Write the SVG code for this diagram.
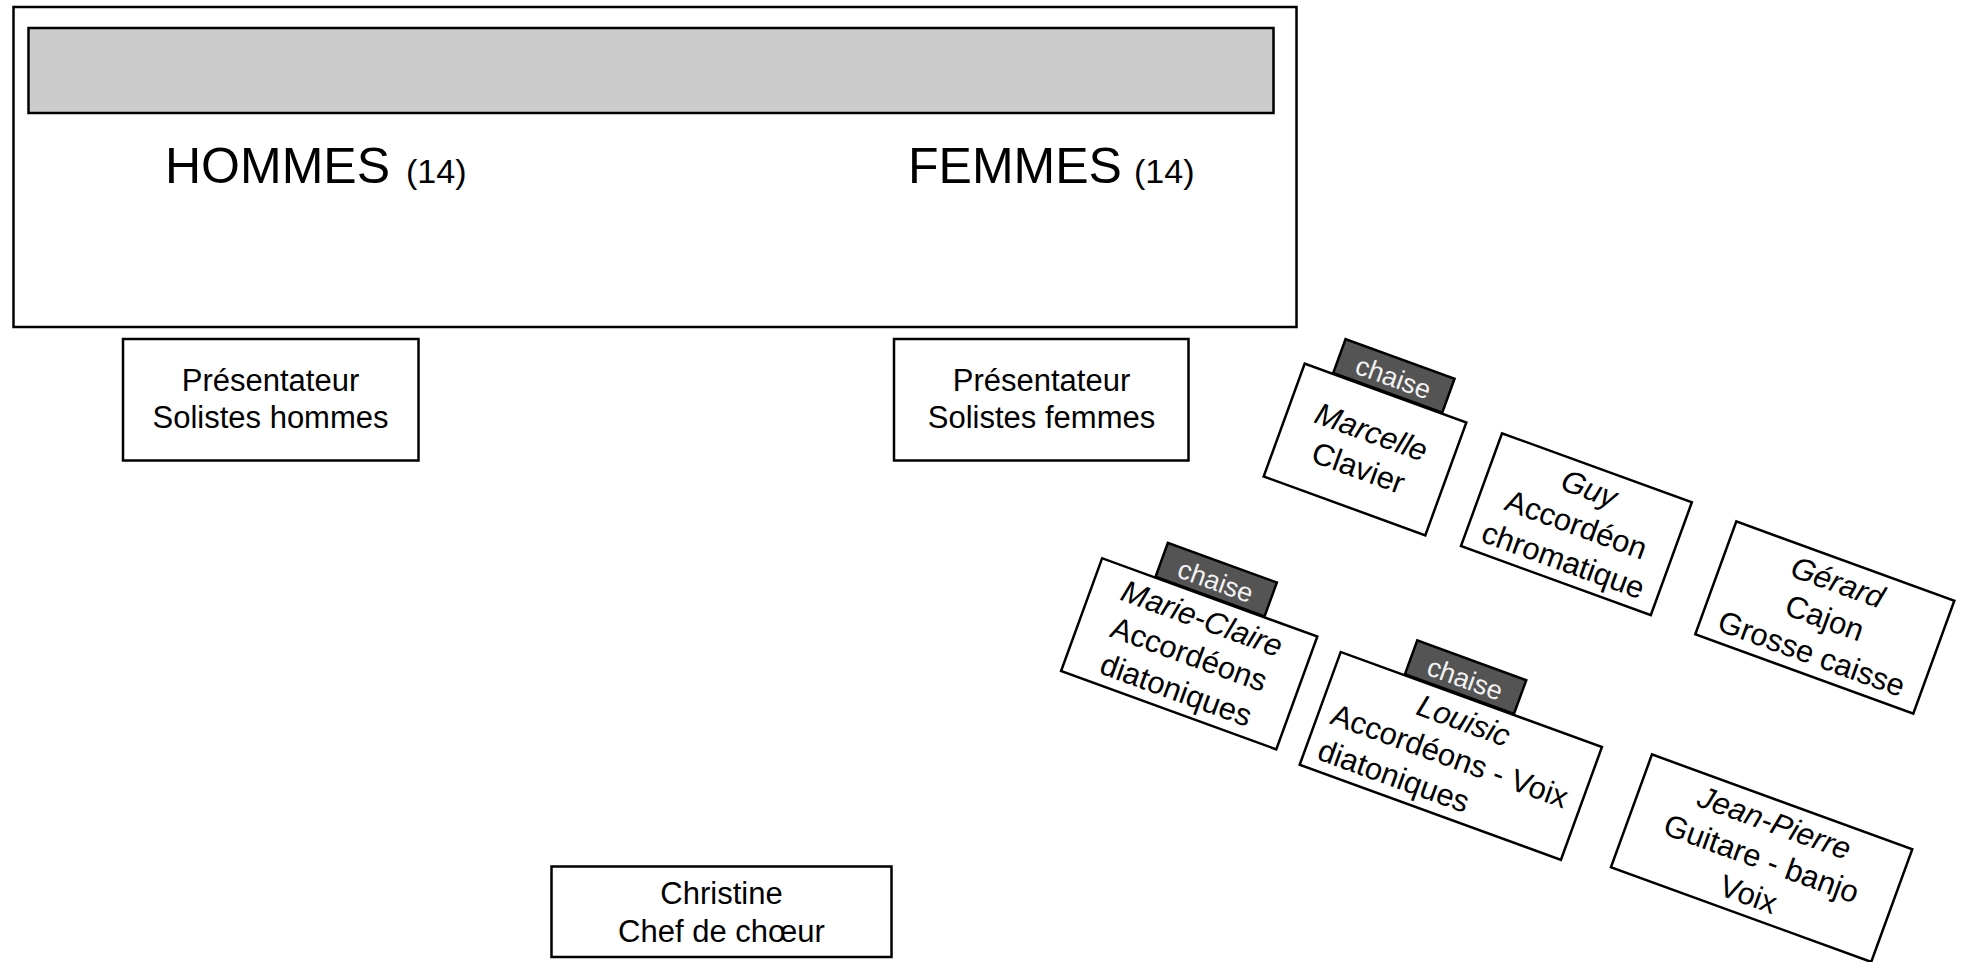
<svg xmlns="http://www.w3.org/2000/svg" width="1966" height="962" viewBox="0 0 1966 962">
<style>
  text { font-family: "Liberation Sans", Arial, Helvetica, sans-serif; fill: #000; }
  .box { fill: #fff; stroke: #000; stroke-width: 2.5; }
  .chaise { fill: #545454; stroke: #000; stroke-width: 2.5; }
  .chaise-t { font-size: 27px; fill: #f2f2f2; text-anchor: middle; }
  .lbl { font-size: 31px; text-anchor: middle; }
  .lbl-l { font-size: 31px; text-anchor: start; }
  .name { font-style: italic; }
  .big { font-size: 50px; }
  .num { font-size: 34px; }
</style>
<rect width="1966" height="962" fill="#fff"/>

<g id="stage">
  <rect x="13.5" y="7" width="1283" height="320" fill="#fff" stroke="#000" stroke-width="2.5"/>
  <rect x="28.5" y="28" width="1245" height="85" fill="#cccccc" stroke="#000" stroke-width="2.5"/>
  <text x="165" y="183"><tspan class="big">HOMMES</tspan><tspan class="num" x="406">(14)</tspan></text>
  <text x="908" y="183"><tspan class="big">FEMMES</tspan><tspan class="num" x="1134">(14)</tspan></text>
</g>

<g id="presentateur-hommes">
  <rect class="box" x="123" y="339" width="295.5" height="121.5"/>
  <text class="lbl" x="270.5" y="391">Présentateur</text>
  <text class="lbl" x="270.5" y="428">Solistes hommes</text>
</g>

<g id="presentateur-femmes">
  <rect class="box" x="894" y="339" width="294.5" height="121.5"/>
  <text class="lbl" x="1041.5" y="391">Présentateur</text>
  <text class="lbl" x="1041.5" y="428">Solistes femmes</text>
</g>

<g id="christine">
  <rect class="box" x="551.5" y="866.5" width="340" height="90.5"/>
  <text class="lbl" x="721.5" y="904">Christine</text>
  <text class="lbl" x="721.5" y="942">Chef de chœur</text>
</g>

<g id="marcelle" transform="translate(1365,449.5) rotate(20)">
  <rect class="chaise" x="-56" y="-97" width="116" height="36"/>
  <text class="chaise-t" x="2" y="-68">chaise</text>
  <rect class="box" x="-86" y="-60" width="172" height="120"/>
  <text class="lbl name" x="0" y="-8">Marcelle</text>
  <text class="lbl" x="0" y="30">Clavier</text>
</g>

<g id="guy" transform="translate(1576.4,524.2) rotate(20)">
  <rect class="box" x="-101" y="-60" width="202" height="120"/>
  <text class="lbl name" x="0" y="-27">Guy</text>
  <text class="lbl" x="0" y="11">Accordéon</text>
  <text class="lbl" x="0" y="49">chromatique</text>
</g>

<g id="gerard" transform="translate(1824.8,617.5) rotate(20)">
  <rect class="box" x="-116" y="-60" width="232" height="120"/>
  <text class="lbl name" x="0" y="-27">Gérard</text>
  <text class="lbl" x="0" y="11">Cajon</text>
  <text class="lbl" x="0" y="49">Grosse caisse</text>
</g>

<g id="marie-claire" transform="translate(1189.2,653.8) rotate(20)">
  <rect class="chaise" x="-58" y="-97" width="116" height="36"/>
  <text class="chaise-t" x="0" y="-68">chaise</text>
  <rect class="box" x="-114.5" y="-60" width="229" height="120"/>
  <text class="lbl name" x="0" y="-27">Marie-Claire</text>
  <text class="lbl" x="0" y="11">Accordéons</text>
  <text class="lbl" x="0" y="49">diatoniques</text>
</g>

<g id="louisic" transform="translate(1450.8,755.9) rotate(20)">
  <rect class="chaise" x="-71" y="-97" width="116" height="36"/>
  <text class="chaise-t" x="-13" y="-68">chaise</text>
  <rect class="box" x="-139" y="-60" width="278" height="120"/>
  <text class="lbl name" x="0" y="-27">Louisic</text>
  <text class="lbl-l" x="-126" y="11">Accordéons - Voix</text>
  <text class="lbl-l" x="-126" y="49">diatoniques</text>
</g>

<g id="jean-pierre" transform="translate(1761.6,858.2) rotate(20)">
  <rect class="box" x="-138.5" y="-60" width="277" height="120"/>
  <text class="lbl name" x="0" y="-27">Jean-Pierre</text>
  <text class="lbl" x="0" y="11">Guitare - banjo</text>
  <text class="lbl" x="0" y="49">Voix</text>
</g>

<g id="connectors"></g>
</svg>
